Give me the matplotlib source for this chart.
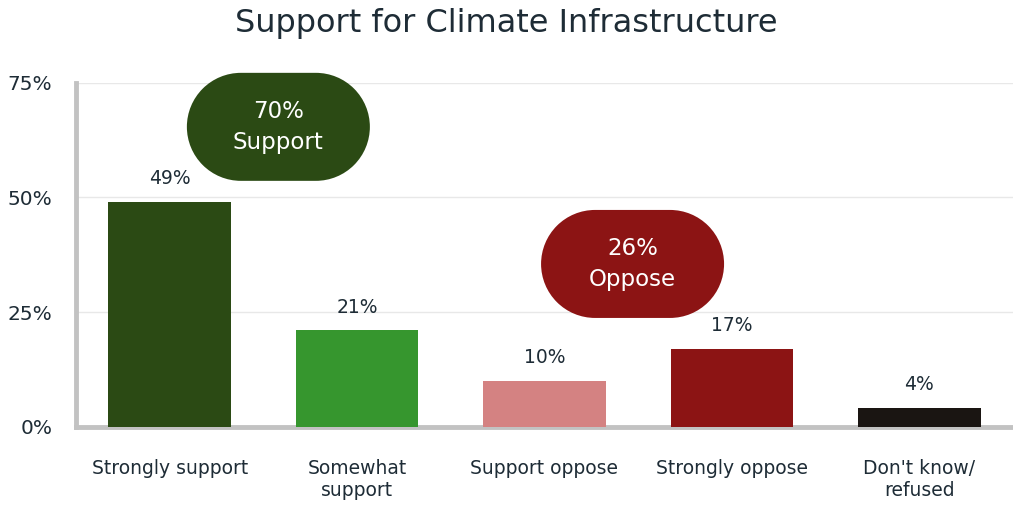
import matplotlib.pyplot as plt
from matplotlib.patches import PathPatch
from matplotlib.path import Path
from matplotlib.transforms import ScaledTranslation
import numpy as np

categories = ['Strongly support', 'Somewhat\nsupport', 'Support oppose', 'Strongly oppose', "Don't know/\nrefused"]
values = [49, 21, 10, 17, 4]
bar_colors = ['#2b4a14', '#36962e', '#d48282', '#8c1414', '#1a1512']
y_ticks = [0, 25, 50, 75]
summary_labels = ['70%\nSupport', '26%\nOppose']
summary_pos = [(0.58, 65.4), (2.47, 35.5)]
summary_colors = ['#2b4a14', '#8c1414']

text_color = '#1e2c36'


def stadium(w, h):
    # pill outline in inches, centred on (0, 0)
    r = h / 2
    left = Path.arc(90, 270)
    right = Path.arc(-90, 90)
    lv = left.vertices * r + [-(w / 2 - r), 0]
    rv = right.vertices * r + [(w / 2 - r), 0]
    verts = np.vstack([rv, lv, rv[:1]])
    codes = ([Path.MOVETO] + list(right.codes[1:]) + [Path.LINETO] +
             list(left.codes[1:]) + [Path.CLOSEPOLY])
    return Path(verts, codes)


fig = plt.figure(figsize=(10.13, 5.05), dpi=100)
ax = fig.add_axes([0.075, 0.155, 0.925, 0.681])

x = np.arange(len(categories))
bars = ax.bar(x, values, width=0.655, color=bar_colors, zorder=3)

for bar, v in zip(bars, values):
    ax.annotate(f'{v}%', xy=(bar.get_x() + bar.get_width() / 2, v),
                xytext=(0, 10), textcoords='offset points',
                ha='center', va='bottom', fontsize=13.5, color=text_color)

for label, (cx, cy), col in zip(summary_labels, summary_pos, summary_colors):
    tr = fig.dpi_scale_trans + ScaledTranslation(cx, cy, ax.transData)
    pill = PathPatch(stadium(1.83, 1.08), facecolor=col, edgecolor='none',
                     transform=tr, zorder=4, clip_on=False)
    ax.add_patch(pill)
    ax.text(cx, cy, label, ha='center', va='center', fontsize=16.5,
            color='white', zorder=5, linespacing=1.45)

ax.set_xlim(-0.5, 4.5)
ax.set_ylim(0, 75)
ax.set_xticks(x)
ax.set_xticklabels(categories, fontsize=13.5, color=text_color)
ax.set_yticks(y_ticks)
ax.set_yticklabels([f'{t}%' for t in y_ticks], fontsize=14.5, color=text_color)
ax.tick_params(axis='both', length=0)
ax.tick_params(axis='y', pad=17)
ax.tick_params(axis='x', pad=23)

ax.grid(axis='y', color='#e8e8e8', linewidth=1, zorder=0)
for s in ['top', 'right']:
    ax.spines[s].set_visible(False)
for s in ['left', 'bottom']:
    ax.spines[s].set_color('#c2c2c2')
    ax.spines[s].set_linewidth(3.5)

fig.suptitle('Support for Climate Infrastructure', fontsize=23, color=text_color, y=0.985)

plt.savefig('out.png', dpi=100)
